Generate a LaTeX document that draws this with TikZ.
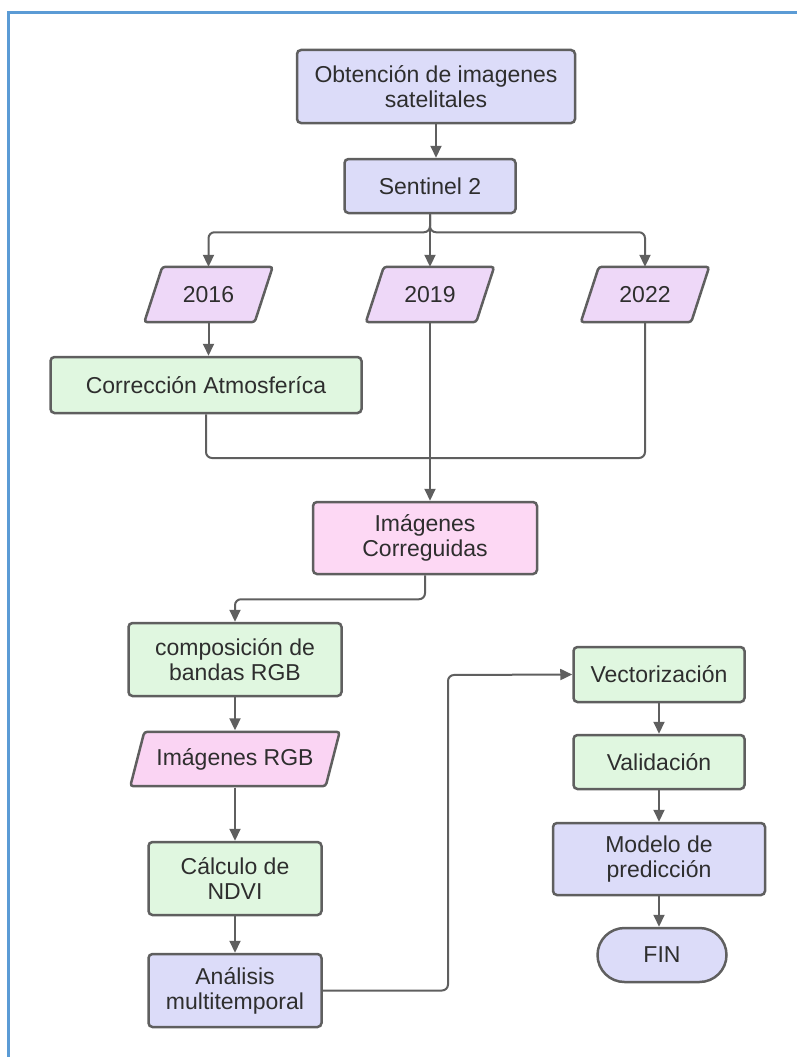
\documentclass[tikz,border=0pt]{standalone}
\usepackage{fontspec}
\setmainfont{Liberation Sans}
\usetikzlibrary{arrows.meta,backgrounds}
\definecolor{lav}{HTML}{DCDCF9}
\definecolor{grn}{HTML}{E0F7E0}
\definecolor{pnk}{HTML}{FDD8F4}
\definecolor{yr}{HTML}{EED8F8}
\definecolor{rgbc}{HTML}{FAD4F3}
\definecolor{edge}{HTML}{5F5F5F}
\definecolor{txt}{HTML}{2E2E2E}
\definecolor{frm}{HTML}{5B9BD5}
\tikzset{
  box/.style={draw=edge, line width=2.5pt, rounded corners=4pt, inner sep=0pt, align=center,
    text=txt, font=\fontsize{23}{25}\selectfont},
  lavbox/.style={box, fill=lav},
  grnbox/.style={box, fill=grn},
  pnkbox/.style={box, fill=pnk},
  parabox/.style={inner sep=0pt, align=center, text=txt, font=\fontsize{23}{25}\selectfont},
  paraline/.style={draw=edge, line width=2.5pt, rounded corners=3pt},
  conn/.style={draw=edge, line width=2pt, rounded corners=6pt},
  arr/.style={conn, -{Triangle[length=12pt,width=11pt]}},
}
\begin{document}
\begin{tikzpicture}[x=1pt,y=-1pt]
\useasboundingbox (0,0) rectangle (797,1057);
\draw[frm, line width=3pt] (8,1060) -- (8,13) -- (800,13);

% nodes
\node[lavbox, minimum width=278, minimum height=73] (obt) at (436,86.5) {Obtención de imagenes\\satelitales};
\node[lavbox, minimum width=171, minimum height=54] (sen) at (430,186) {Sentinel 2};
\node[parabox, minimum width=110, minimum height=55] (y16) at (208.5,294.5) {2016};
\node[parabox, minimum width=110, minimum height=55] (y19) at (430,294.5) {2019};
\node[parabox, minimum width=110, minimum height=55] (y22) at (645,294.5) {2022};
\node[grnbox, minimum width=311, minimum height=56] (atm) at (206,385) {Corrección Atmosferíca};
\node[pnkbox, minimum width=224, minimum height=72] (corr) at (425,538) {Imágenes\\Correguidas};
\node[grnbox, minimum width=213, minimum height=73] (comp) at (235,659.5) {composición de\\bandas RGB};
\node[parabox, minimum width=195, minimum height=54] (rgb) at (235,759) {Imágenes RGB};
\node[grnbox, minimum width=173, minimum height=73] (ndvi) at (235,878.5) {Cálculo de\\NDVI};
\node[lavbox, minimum width=173, minimum height=73] (anal) at (235,990.5) {Análisis\\multitemporal};
\node[grnbox, minimum width=171, minimum height=55] (vec) at (659,674.5) {Vectorización};
\node[grnbox, minimum width=171, minimum height=54] (val) at (659,762) {Validación};
\node[lavbox, minimum width=212, minimum height=72] (mod) at (659,859) {Modelo de\\predicción};
\node[box, fill=lav, rounded corners=27pt, minimum width=129, minimum height=54] (fin) at (662,955) {FIN};

% parallelograms
\begin{scope}[on background layer]
\foreach \n/\s/\c in {y16/9/yr, y19/9/yr, y22/9/yr, rgb/7/rgbc}{
  \draw[paraline, fill=\c] ([xshift=-\s]\n.south west) -- ([xshift=-\s]\n.south east)
    -- ([xshift=\s]\n.north east) -- ([xshift=\s]\n.north west) -- cycle;
}
\end{scope}

% connectors
\coordinate (merge) at (430,458);
\coordinate (bend) at (448,675);
\draw[arr] (obt.south) -- (obt.south |- sen.north);
\draw[arr] (sen.south) -- ++(0,18) -| (y16.north);
\draw[arr] (sen.south) -- ++(0,18) -| (y22.north);
\draw[arr] (sen.south) -- (y19.north);
\draw[arr] (y16.south) -- (y16.south |- atm.north);
\draw[conn] (atm.south) |- (merge);
\draw[conn] (y22.south) |- (merge);
\draw[arr] (y19.south) -- (y19.south |- corr.north);
\draw[arr] (corr.south) -- ++(0,24) -| (comp.north);
\draw[arr] (comp.south) -- ([yshift=1.5pt]rgb.north);
\draw[arr] ([yshift=-1.5pt]rgb.south) -- (ndvi.north);
\draw[arr] (ndvi.south) -- (anal.north);
\draw[arr] (anal.east) -| (bend) -- (vec.west);
\draw[arr] (vec.south) -- (val.north);
\draw[arr] (val.south) -- (mod.north);
\draw[arr] (mod.south) -- (mod.south |- fin.north);
\end{tikzpicture}
\end{document}
